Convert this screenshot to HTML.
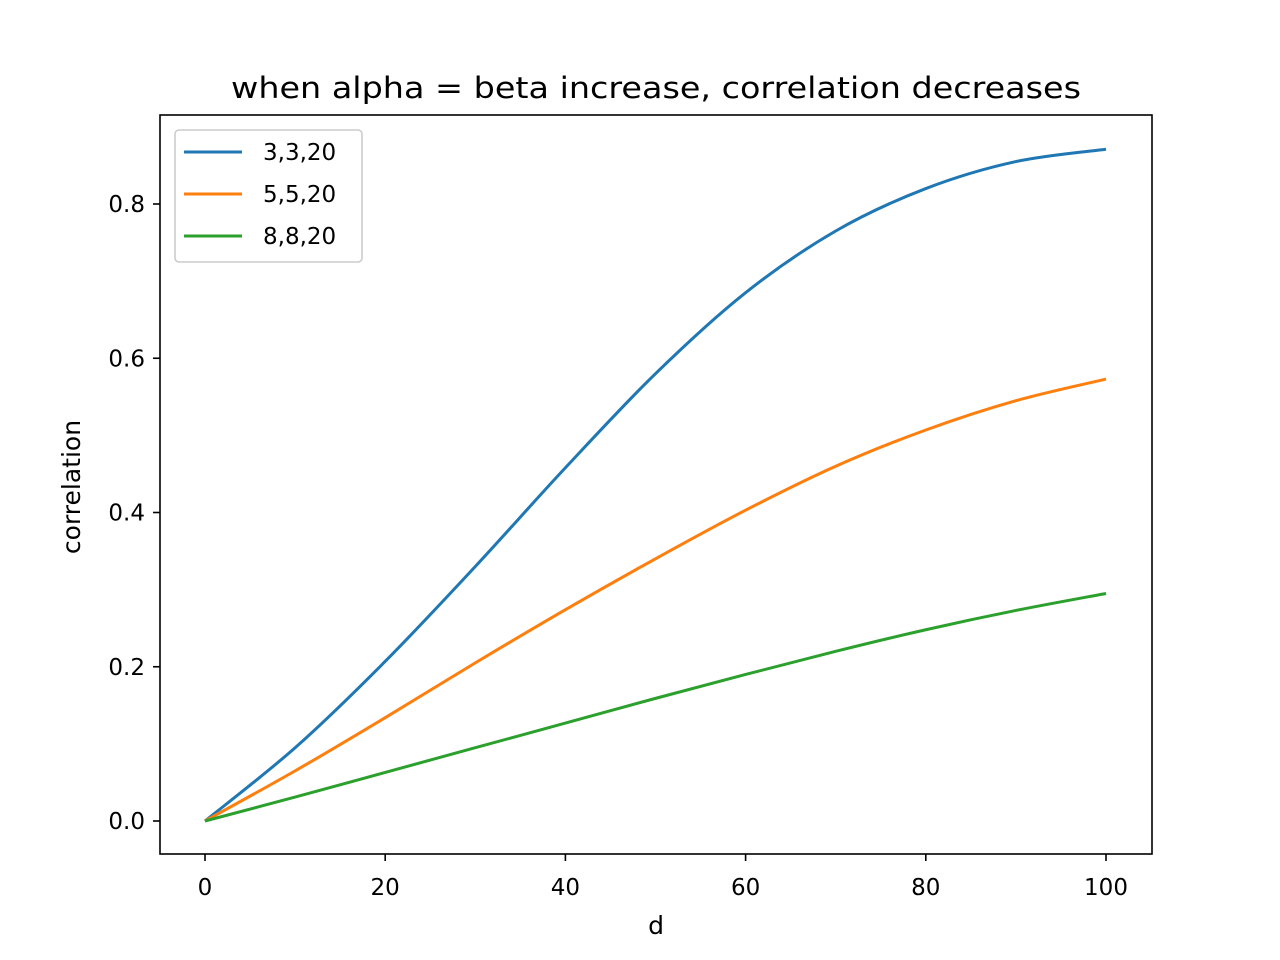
<!DOCTYPE html>
<html><head><meta charset="utf-8"><style>body{margin:0;background:#fff}svg{display:block}text{font-family:"DejaVu Sans","Liberation Sans",sans-serif;fill:#000}</style></head>
<body>
<svg id="chart" width="1280" height="960" xmlns="http://www.w3.org/2000/svg">
<rect width="1280" height="960" fill="#fff"/>
<text x="656" y="98" font-size="29" text-anchor="middle" textLength="850" lengthAdjust="spacingAndGlyphs">when alpha = beta increase, correlation decreases</text>
<g id="plot"></g>
<rect x="160" y="115" width="992" height="739" fill="none" stroke="#000" stroke-width="1.6"/>
<text x="656" y="934" font-size="25" text-anchor="middle">d</text>
<text transform="translate(80,487) rotate(-90)" font-size="25" text-anchor="middle">correlation</text>
<g>
<rect x="175" y="130" width="187" height="132" rx="4" fill="#fff" stroke="#ccc" stroke-width="1.6"/>
<g id="legend-items"></g>
</g>
</svg>
<script>
const xValues=[0,10,20,30,40,50,60,70,80,90,100];
const seriesBlue=[0,0.095,0.207,0.33,0.458,0.58,0.685,0.765,0.82,0.855,0.871];
const seriesOrange=[0,0.065,0.134,0.205,0.274,0.34,0.403,0.46,0.507,0.545,0.573];
const seriesGreen=[0,0.031,0.063,0.095,0.127,0.159,0.19,0.22,0.248,0.273,0.295];
const seriesNames=["3,3,20","5,5,20","8,8,20"];
const xTicks=[0,20,40,60,80,100];
const yTicks=[0.0,0.2,0.4,0.6,0.8];
const colors=["#1f77b4","#ff7f0e","#2ca02c"];
const ns="http://www.w3.org/2000/svg";
function sx(v){return 205+v*9.01;}
function sy(v){return 821-v*771.25;}
const g=document.getElementById('plot');
function mk(t,a,p){const e=document.createElementNS(ns,t);for(const k in a)e.setAttribute(k,a[k]);(p||g).appendChild(e);return e;}
xTicks.forEach(t=>{
 const l=mk('line',{x1:sx(t),x2:sx(t),y1:854,y2:861,stroke:'#000','stroke-width':1.6});
 
 
 const tx=mk('text',{x:sx(t),y:895,'font-size':23,'text-anchor':'middle'});tx.textContent=t;
 
 
});
yTicks.forEach(t=>{
 const l=mk('line',{x1:153,x2:160,y1:sy(t),y2:sy(t),stroke:'#000','stroke-width':1.6});
 
 
 const tx=mk('text',{x:145,y:sy(t)+8,'font-size':23,'text-anchor':'end'});tx.textContent=t.toFixed(1);
 
 
});
function smooth(arr){
 const p=xValues.map((x,i)=>[sx(x),sy(arr[i])]);
 let d='M'+p[0][0]+','+p[0][1];
 for(let i=0;i<p.length-1;i++){
  const p0=p[i-1]||p[i],p1=p[i],p2=p[i+1],p3=p[i+2]||p[i+1];
  d+=' C'+(p1[0]+(p2[0]-p0[0])/6)+','+(p1[1]+(p2[1]-p0[1])/6)+' '+(p2[0]-(p3[0]-p1[0])/6)+','+(p2[1]-(p3[1]-p1[1])/6)+' '+p2[0]+','+p2[1];
 }
 return d;
}
[seriesBlue,seriesOrange,seriesGreen].forEach((s,i)=>{
 const path=mk('path',{d:smooth(s),fill:'none',stroke:colors[i],'stroke-width':3});
 
 
});
const lg=document.getElementById('legend-items');
seriesNames.forEach((n,i)=>{
 const y=152+i*42;
 const l=mk('line',{x1:184,x2:242,y1:y,y2:y,stroke:colors[i],'stroke-width':3},lg);
 
 
 const t=mk('text',{x:263,y:y+8,'font-size':23},lg);t.textContent=n;
 
 
});
</script>
</body></html>
